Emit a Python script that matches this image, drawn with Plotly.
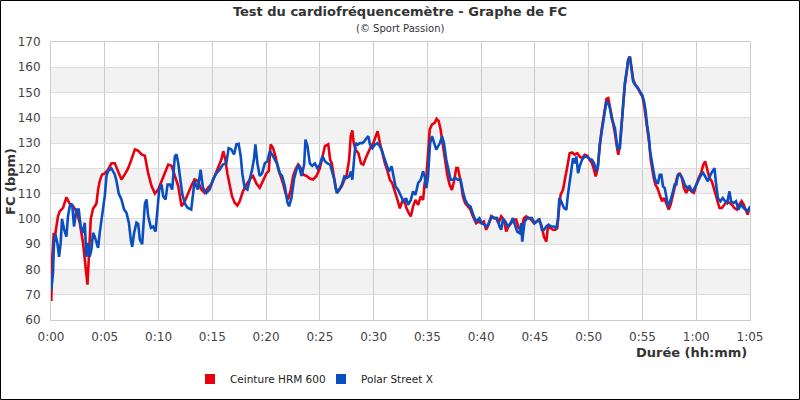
import plotly.graph_objects as go

# ---- data (minutes, bpm) ----
red_t = [0.03,0.12,0.25,0.4,0.65,0.81,1.12,1.43,1.74,2.05,2.36,2.67,2.98,3.14,3.29,3.39,3.51,3.7,3.91,4.22,4.38,4.53,4.75,5.0,5.31,5.62,5.93,6.24,6.55,6.86,7.17,7.48,7.8,8.1,8.42,8.73,9.04,9.35,9.66,9.97,10.28,10.59,10.9,11.21,11.52,11.83,12.14,12.45,
         13.04,13.35,13.66,13.98,14.29,14.6,14.91,15.22,15.53,15.84,16.02,16.21,16.4,16.61,16.83,17.08,17.33,17.55,17.86,18.17,18.48,18.79,19.1,19.41,19.72,20.03,20.25,20.43,20.65,20.87,21.12,21.37,21.58,21.8,22.05,22.3,22.52,22.73,22.98,23.23,23.45,23.76,24.07,24.38,24.69,25.0,25.22,25.47,25.78,
         25.96,26.11,26.27,26.48,26.73,27.04,27.28,27.5,27.72,27.87,28.02,28.15,28.33,28.58,28.83,29.04,29.26,29.51,29.75,29.97,30.19,30.37,30.59,30.8,31.05,31.3,31.51,31.73,31.98,32.22,32.44,32.65,32.84,33.06,33.27,33.46,33.67,33.89,34.14,34.38,34.6,34.75,34.91,35.06,35.22,35.43,35.68,35.86,36.05,36.23,36.45,36.67,36.85,37.07,37.28,37.47,37.69,37.84,37.99,38.15,38.3,38.52,38.77,39.01,39.17,
         39.32,39.53,39.75,40.0,40.25,40.47,40.68,40.93,41.18,41.4,41.61,41.86,42.11,42.33,42.55,42.8,43.04,43.26,43.48,43.73,43.98,44.19,44.41,44.66,44.91,45.12,45.34,45.59,45.84,46.06,46.21,46.46,46.68,46.89,47.08,47.2,47.39,47.61,47.76,47.92,48.07,48.23,48.45,48.7,48.94,49.16,49.38,49.63,49.88,50.09,50.31,50.5,50.65,50.81,50.93,51.06,51.18,51.45,51.65,
         51.82,51.98,52.13,52.28,52.44,52.59,52.75,52.9,53.06,53.21,53.36,53.52,53.67,53.83,53.98,54.14,54.35,54.6,54.81,55.0,55.15,55.28,55.4,55.52,55.65,55.77,55.9,56.05,56.2,56.39,56.6,56.82,57.01,57.22,57.44,57.62,57.84,58.06,58.24,58.46,58.67,58.86,59.07,59.29,59.54,59.78,60.0,60.22,60.46,60.65,60.83,61.02,61.23,61.45,61.64,61.85,62.01,62.16,62.38,62.62,62.87,63.09,63.3,63.55,63.8,64.01,64.23,64.41,64.63,64.78,64.94]
red_v = [67.5,85,94,94,101,103,104.4,108.5,106,105,103,98.5,90.5,85,78.6,74,84,100,104,106,111.6,115,117.6,118,119.5,122,122,119,115.6,117.6,120,123.5,127.5,127,125.5,125,118,113,110,111.6,115,118,121.5,121,117,113,105,107,
         113,115.6,115,111.6,110.3,112.3,113.6,117,120,123.5,126.8,123.5,118,114,109,106.4,105.3,107,111,113.6,115.6,117,114,112.3,115,118,119,129.5,128,124.8,120,117,114,110.3,107.7,111.6,117,119.5,121.5,120,117.6,117,116,115.6,117,120,124.8,128.8,129.5,
         123.4,122,116.8,112,111,113,115.5,117.5,123.4,132.7,135,130,127.4,126,122,121.5,124,126.8,128.7,130,132.7,134.7,130,126,122,118.8,115.5,114.2,110.2,107.5,104.2,106.9,107.5,104.2,102.3,101,105,107.5,105.6,108.9,107.5,114.2,116.8,127.4,135.4,137.4,138,139.6,138.7,135.4,128.7,122,117.5,113.5,111.5,114.8,120.1,120.1,117.5,113.5,108.9,106.2,104.9,103.6,101.6,
         100.3,98.3,99,98.3,99,95.7,97.7,101,100.3,100.3,98.3,101,99.7,95,97,98.3,99.7,99.7,96.4,95.7,100.3,101,100.3,99.7,98.3,99,99.7,97.7,93,91,97,96.4,95.7,95.7,96.4,102.3,109.6,111.5,115.5,118.8,122,126,126.3,125.4,126,124.7,124,125.4,125,123.4,122,119.4,116.8,119.4,124.7,130,134.6,142,147.5,
         147.8,144.5,140.5,137.2,134,129.3,125.4,129.3,137.9,144.5,153,157.6,162.9,164.2,159.6,155,153,151.7,149.7,148.4,145.1,141.2,135.9,132.6,129.3,123.4,119.5,116.2,113.6,112.2,109.6,107,108.3,105.7,103.7,105.7,109.6,113.6,116.8,118.2,116.2,112.2,110.3,112.2,110.9,110.3,113.6,116.2,118.2,121.4,122.8,120.1,116.2,114.9,112.2,109.6,107,104.3,104.3,105.7,107,106.3,105.7,104.3,103.7,105.7,107,105.7,103,101.7,104.3]

blue_t = [0.03,0.19,0.28,0.4,0.59,0.75,0.9,1.02,1.21,1.43,1.58,1.74,1.96,2.14,2.36,2.58,2.76,2.98,3.14,3.29,3.45,3.6,3.76,3.91,4.07,4.22,4.38,4.53,4.69,4.84,5.0,5.16,5.31,5.62,5.93,6.09,6.3,6.55,6.8,7.02,7.24,7.42,7.55,7.73,7.95,8.11,8.26,8.48,8.73,8.88,9.04,9.29,9.5,9.72,9.91,10.06,10.28,10.43,10.65,10.84,11.06,11.27,11.52,11.68,11.83,12.02,12.2,12.45,12.7,
          13.04,13.35,13.66,13.91,14.13,14.44,14.75,15.06,15.37,15.68,15.99,16.3,16.52,16.77,17.02,17.24,17.45,17.64,17.8,18.01,18.26,18.48,18.7,18.88,19.01,19.19,19.41,19.63,19.88,20.12,20.34,20.56,20.81,21.06,21.27,21.49,21.74,21.99,22.14,22.36,22.61,22.83,23.04,23.29,23.54,23.66,23.85,24.07,24.29,24.53,24.78,25.0,25.25,25.47,25.71,
          25.96,26.17,26.36,26.57,26.79,27.04,27.28,27.5,27.72,27.9,28.02,28.21,28.33,28.52,28.73,28.95,29.14,29.35,29.51,29.66,29.88,30.12,30.37,30.59,30.8,30.99,31.2,31.42,31.67,31.85,32.04,32.28,32.53,32.78,33.02,33.21,33.46,33.67,33.89,34.14,34.38,34.6,34.75,34.91,35.06,35.25,35.43,35.62,35.83,35.99,36.17,36.36,36.54,36.76,36.98,37.16,37.38,37.59,37.84,38.09,38.3,38.52,38.77,39.01,
          39.32,39.53,39.84,40.06,40.31,40.56,40.78,40.99,41.24,41.49,41.71,41.86,42.02,42.24,42.48,42.73,42.95,43.17,43.35,43.57,43.73,43.82,44.04,44.29,44.5,44.72,44.97,45.22,45.43,45.65,45.84,46.06,46.27,46.52,46.77,46.99,47.14,47.27,47.45,47.7,47.92,48.07,48.23,48.39,48.54,48.7,48.85,49.01,49.16,49.38,49.63,49.88,50.09,50.31,50.5,50.71,50.87,51.02,51.18,51.45,51.65,
          51.82,51.98,52.13,52.28,52.44,52.59,52.75,52.9,53.06,53.21,53.36,53.52,53.67,53.83,53.98,54.14,54.35,54.54,54.75,54.97,55.15,55.28,55.43,55.59,55.71,55.83,55.99,56.14,56.3,56.45,56.6,56.76,56.91,57.07,57.22,57.38,57.53,57.69,57.84,57.99,58.15,58.3,58.46,58.61,58.77,58.92,59.17,59.38,59.6,59.78,60.0,60.22,60.46,60.65,60.83,61.08,61.33,61.54,61.7,61.85,62.01,62.25,62.47,62.68,62.87,63.09,63.24,63.49,63.7,63.92,64.17,64.41,64.63,64.78,65.03]
blue_v = [72,78.7,90.5,94,90.5,85,90.5,100,96,93,101,105,106,97,103.7,103.7,97,94.5,98.5,85,90.5,85,88,94.5,93,90.5,88.5,94.5,100,103.7,109,117,119,120,117.6,115,110,107.7,103.7,102.4,98.5,91.8,89,94.5,98.5,98,91.8,90,106,107.7,101,96.5,97,95,105,111.6,113.6,109,107.7,113.6,113.6,111.6,124.8,125.5,122,115,110,106,104.4,
          103.7,115,111.6,119.5,112.3,110.3,111.6,115.6,118,119.5,121.5,122,128,127.5,125.5,129.5,129.7,124.8,117.6,112.3,111.6,115,119.5,124,129.5,122,117,118,122,122.8,126.8,125.5,123.5,121.5,118,117,113,106.4,105,108.3,116,119.5,121.5,117,121.5,131.4,128.8,122,121,122,120,121.5,124.8,122.8,122,
          121.5,118.2,115.5,110.2,111.5,113.5,116.8,116.2,116.8,118.8,115.5,124.8,130,129.4,130,130,130.7,132,132.7,129.4,128,129.4,130,128.7,126.8,124.1,121.5,118.8,120.8,117.5,112.8,111.5,108.9,106.9,108.2,105.6,107.5,110.9,109.5,114.2,115.5,118.8,116.8,112.2,116.8,130,132.7,130,127.4,128.7,130,132.7,130,123.4,118.8,115.5,115.5,116.2,115.5,115.5,110.9,107.5,105.6,104.9,
          101,99,100.3,98.3,97.7,97,99,101,100.3,100.3,97,95.7,99.7,99,97,98.3,100.3,97,95,94.4,98.3,91,99,100.3,100.3,100.3,98.3,99,99.7,95.7,95.7,97,97.7,97,97,96.4,99.7,108.2,106.9,104.3,103.6,109.6,114.2,119.4,124,122,124.7,118.1,120.8,123.4,124.7,124.5,123.7,123.4,122,118.8,120.8,129.3,134,142,146.5,
          145.8,143.8,139.9,137.9,135.9,130.7,127.4,128,136.6,145.1,153.7,158.3,162.9,164.2,160.3,154.3,153,151.7,150.4,149.1,146.4,143.2,137.2,132.6,126.7,123.4,120.1,116.2,114.2,114.2,117.5,117.5,112.9,112.2,108.9,105,106.3,108.3,110.9,113.6,113.6,117.5,117.5,116.8,115.5,113.6,112.2,112.9,110.9,111.6,113.6,114.9,117.5,118.2,116.8,114.9,117.5,118.8,120.1,113.6,108.3,107,108.3,107,106.3,110.9,107,106.3,107,103.7,105.7,104.3,103.7,103,105]

series_names = ["Ceinture HRM 600", "Polar Street X"]
series_colors = ["#e8000e", "#0a4fc2"]
x_tickvals = list(range(0, 66, 5))
x_ticktext = ["0:00", "0:05", "0:10", "0:15", "0:20", "0:25", "0:30", "0:35", "0:40", "0:45", "0:50", "0:55", "1:00", "1:05"]
y_tickvals = list(range(60, 171, 10))
band_ranges = [(70, 80), (90, 100), (110, 120), (130, 140), (150, 160)]

FONT = "DejaVu Sans"
W, H = 800, 400
ML, MR, MT, MB = 51, 50, 42, 80
PW, PH = W - ML - MR, H - MT - MB

fig = go.Figure()
for t, v, name, col in [(red_t, red_v, series_names[0], series_colors[0]),
                        (blue_t, blue_v, series_names[1], series_colors[1])]:
    fig.add_trace(go.Scatter(x=t, y=v, mode="lines", name=name,
                             line=dict(color=col, width=2.6), showlegend=False,
                             hoverinfo="skip"))
for i, (name, col) in enumerate(zip(series_names, series_colors)):
    fig.add_trace(go.Scatter(x=[None], y=[None], mode="markers", name=name,
                             legend="legend" if i == 0 else "legend2",
                             marker=dict(symbol="square", size=10, color=col)))

shapes = []
for lo, hi in band_ranges:
    shapes.append(dict(type="rect", xref="paper", yref="y", x0=0, x1=1, y0=lo, y1=hi,
                       fillcolor="#f2f2f2", line=dict(width=0), layer="below"))
# outer frame of the whole image
shapes.append(dict(type="rect", xref="paper", yref="paper",
                   x0=(-ML + 0.5) / PW, x1=(W - ML - 0.5) / PW,
                   y0=(-MB + 0.5) / PH, y1=(H - MB - 0.5) / PH,
                   line=dict(color="black", width=1), fillcolor="rgba(0,0,0,0)"))

annotations = [
    dict(text="(© Sport Passion)", xref="paper", yref="paper",
         x=(400 - ML) / PW, y=(H - MB - 28) / PH, showarrow=False,
         font=dict(family=FONT, size=10, color="#333"), xanchor="center", yanchor="middle"),
    dict(text="<b>FC (bpm)</b>", xref="paper", yref="paper",
         x=(10 - ML) / PW, y=(H - MB - 182) / PH, textangle=-90, showarrow=False,
         font=dict(family=FONT, size=13, color="#333"), xanchor="center", yanchor="middle"),
    dict(text="<b>Durée (hh:mm)</b>", xref="paper", yref="paper",
         x=(749 - ML) / PW, y=(H - MB - 352) / PH, showarrow=False,
         font=dict(family=FONT, size=13, color="#333"), xanchor="right", yanchor="middle"),
]

legend_common = dict(orientation="h", xanchor="left", xref="container",
                     y=1 - 379 / H, yanchor="middle", yref="container",
                     font=dict(family=FONT, size=10.5, color="#222"),
                     itemwidth=30, bgcolor="rgba(0,0,0,0)")

fig.update_layout(
    width=W, height=H,
    margin=dict(l=ML, r=MR, t=MT, b=MB),
    paper_bgcolor="white", plot_bgcolor="white",
    font=dict(family=FONT, size=12, color="#333"),
    title=dict(text="<b>Test du cardiofréquencemètre - Graphe de FC</b>",
               x=0.5, xanchor="center", xref="container",
               y=1 - 11 / H, yanchor="middle", yref="container",
               font=dict(family=FONT, size=13, color="#333")),
    xaxis=dict(range=[0, 65], tickvals=x_tickvals, ticktext=x_ticktext,
               showgrid=True, gridcolor="#cccccc", gridwidth=1,
               showline=True, linecolor="#cccccc", mirror=True,
               ticks="", zeroline=False, ticklabelstandoff=6,
               tickfont=dict(family=FONT, size=12, color="#444")),
    yaxis=dict(range=[60, 170], tickvals=y_tickvals,
               showgrid=True, gridcolor="#dddddd", gridwidth=1,
               showline=True, linecolor="#cccccc", mirror=True,
               ticks="", zeroline=False, ticklabelstandoff=7,
               tickfont=dict(family=FONT, size=12, color="#444")),
    legend=dict(x=190 / W, **legend_common),
    legend2=dict(x=321 / W, **legend_common),
    shapes=shapes, annotations=annotations,
)

fig.write_html("out.html")
